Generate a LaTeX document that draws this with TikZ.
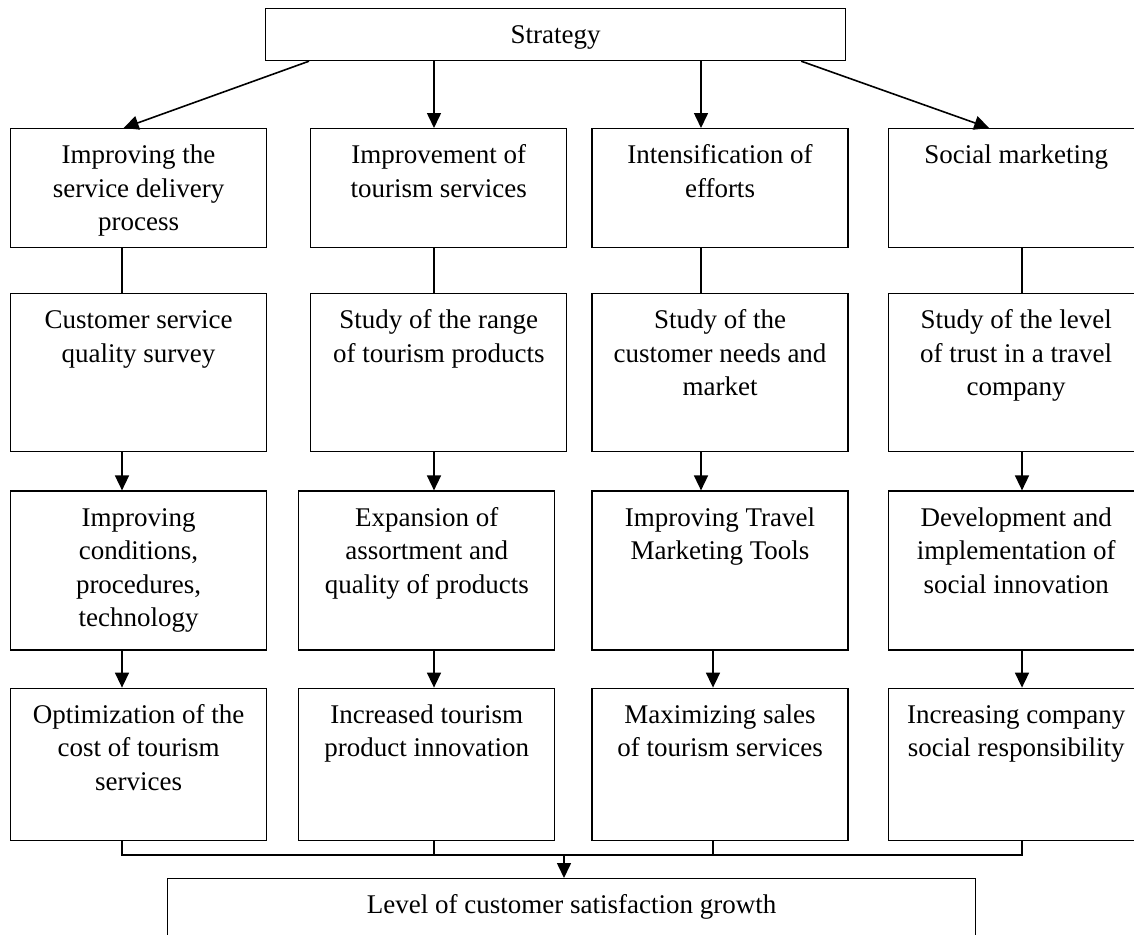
\documentclass[tikz,border=0pt]{standalone}
\usepackage{fontspec}
\setmainfont{Liberation Serif}
\usetikzlibrary{arrows.meta, positioning}

% text set at the top of a box of fixed width and height
\newcommand{\boxtext}[3]{\parbox[t][#2][t]{#1}{\centering\rule{0pt}{35pt}#3}}

\begin{document}
\begin{tikzpicture}[
x=1pt, y=-1pt,
font=\fontsize{27}{33.5}\selectfont,
stage/.style={
    draw,
    rectangle,
    inner sep=0pt,
    line width=1.2pt
},
arrow/.style={-{Triangle[length=15pt, width=14pt]}, line width=1.6pt},
link/.style={line width=1.2pt}
]
\useasboundingbox (0,0) rectangle (1134,934);
\clip (0,0) rectangle (1134,934);

% Top node
\node[stage, anchor=north west] (strategy) at (265,8) {\boxtext{580pt}{52pt}{Strategy}};

% Row 1: directions
\node[stage, anchor=north west] (a1) at (10,128) {\boxtext{256pt}{119pt}{Improving the\\service delivery\\process}};
\node[stage, right=43pt of a1] (b1) {\boxtext{256pt}{119pt}{Improvement of\\tourism services}};
\node[stage, right=24pt of b1] (c1) {\boxtext{256pt}{119pt}{Intensification of\\efforts}};
\node[stage, right=39pt of c1] (d1) {\boxtext{256pt}{119pt}{Social marketing}};

% Row 2: studies
\node[stage, below=45pt of a1] (a2) {\boxtext{256pt}{158pt}{Customer service\\quality survey}};
\node[stage, below=45pt of b1] (b2) {\boxtext{256pt}{158pt}{Study of the range\\of tourism products}};
\node[stage, below=45pt of c1] (c2) {\boxtext{256pt}{158pt}{Study of the\\customer needs and\\market}};
\node[stage, below=45pt of d1] (d2) {\boxtext{256pt}{158pt}{Study of the level\\of trust in a travel\\company}};

% Row 3: measures
\node[stage, below=38pt of a2] (a3) {\boxtext{256pt}{159pt}{Improving\\conditions,\\procedures,\\technology}};
\node[stage, below=38pt of b2, xshift=-12pt] (b3) {\boxtext{256pt}{159pt}{Expansion of\\assortment and\\quality of products}};
\node[stage, below=38pt of c2] (c3) {\boxtext{256pt}{159pt}{Improving Travel\\Marketing Tools}};
\node[stage, below=38pt of d2] (d3) {\boxtext{256pt}{159pt}{Development and\\implementation of\\social innovation}};

% Row 4: results
\node[stage, below=37pt of a3] (a4) {\boxtext{256pt}{152pt}{Optimization of the\\cost of tourism\\services}};
\node[stage, below=37pt of b3] (b4) {\boxtext{256pt}{152pt}{Increased tourism\\product innovation}};
\node[stage, below=37pt of c3] (c4) {\boxtext{256pt}{152pt}{Maximizing sales\\of tourism services}};
\node[stage, below=37pt of d3] (d4) {\boxtext{256pt}{152pt}{Increasing company\\social responsibility}};

% Bottom node
\node[stage, anchor=north west] (growth) at (167,878) {\boxtext{808pt}{80pt}{Level of customer satisfaction growth}};

% Column lines
\coordinate (colA) at (122,0);
\coordinate (colB) at (434,0);
\coordinate (colC) at (701,0);
\coordinate (colCC) at (713,0);
\coordinate (colD) at (1022,0);
\coordinate (bus) at (0,855);
\coordinate (join) at (564,0);

% Arrows from the top
\draw[arrow] ([xshift=44pt]strategy.south west) -- ([xshift=-15pt]a1.north);
\draw[arrow] (strategy.south -| colB) -- (b1.north -| colB);
\draw[arrow] (strategy.south -| colC) -- (c1.north -| colC);
\draw[arrow] ([xshift=-45pt]strategy.south east) -- ([xshift=-27pt]d1.north);

% Down the columns
\foreach \c/\k in {a/A, b/B, c/C, d/D}
    \draw[link] (\c1.south -| col\k) -- (\c2.north -| col\k);
\foreach \c/\k in {a/A, b/B, c/C, d/D}
    \draw[arrow] (\c2.south -| col\k) -- (\c3.north -| col\k);
\foreach \c/\k in {a/A, b/B, c/CC, d/D}
    \draw[arrow] (\c3.south -| col\k) -- (\c4.north -| col\k);

% Collecting line
\draw[link] (a4.south -| colA) |- (bus -| colD) -- (d4.south -| colD);
\draw[link] (b4.south -| colB) -- (bus -| colB);
\draw[link] (c4.south -| colCC) -- (bus -| colCC);
\draw[arrow] (bus -| join) -- (growth.north -| join);

\end{tikzpicture}
\end{document}
